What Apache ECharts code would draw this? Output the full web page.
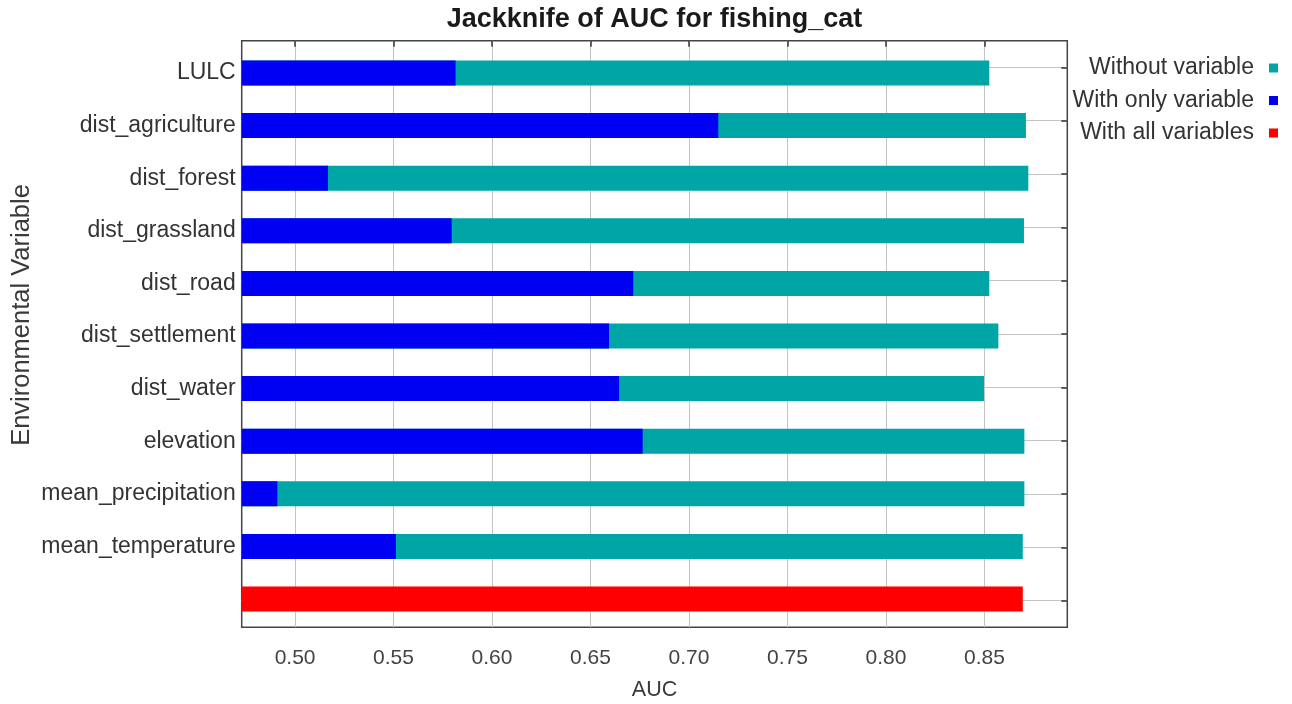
<!DOCTYPE html>
<html>
<head>
<meta charset="utf-8">
<script src="https://cdn.jsdelivr.net/npm/echarts@6/dist/echarts.min.js"></script>
<style>
  html, body { margin: 0; padding: 0; background: #ffffff; }
  #chart { width: 1292px; height: 704px; }
</style>
</head>
<body>
<div id="chart"></div>
<script>
// Jackknife test of variable importance (training AUC)
const variables = ['LULC', 'dist_agriculture', 'dist_forest', 'dist_grassland', 'dist_road',
  'dist_settlement', 'dist_water', 'elevation', 'mean_precipitation', 'mean_temperature'];
const withoutVariable = [0.8525, 0.8711, 0.8723, 0.8701, 0.8525, 0.8571, 0.8498, 0.8703, 0.8703, 0.8695];
const withOnlyVariable = [0.5815, 0.7149, 0.5167, 0.5795, 0.6717, 0.6594, 0.6645, 0.6765, 0.4910, 0.5512];
const withAllVariables = 0.8695;
const aucTicks = [0.50, 0.55, 0.60, 0.65, 0.70, 0.75, 0.80, 0.85];
const aucMin = 0.4729;
const aucMax = 0.8921;

// one row per variable plus a final unlabeled row for the full model
const rows = variables.concat(['']);
const rowIndex = rows.map((_, i) => i);

const FONT = "'Liberation Sans', Arial, sans-serif";
const plot = { left: 241.7, right: 224.7, top: 40.7, bottom: 76.7, outerBoundsMode: 'none', containLabel: false };
const barArea = { left: 241.7, right: 224.7, top: 46.7, bottom: 78.7, outerBoundsMode: 'none', containLabel: false };

const chart = echarts.init(document.getElementById('chart'), null, { renderer: 'canvas' });

chart.setOption({
  animation: false,
  backgroundColor: '#ffffff',
  textStyle: { fontFamily: FONT },
  graphic: [
    {
      type: 'text', x: 654.5, y: 20,
      style: { text: 'Jackknife of AUC for fishing_cat', font: 'bold 27px ' + FONT,
        fill: '#1a1a1a', align: 'center', verticalAlign: 'middle' }
    },
    {
      type: 'text', x: 22, y: 315, rotation: Math.PI / 2,
      style: { text: 'Environmental Variable', font: '25.5px ' + FONT,
        fill: '#3a3a3a', align: 'center', verticalAlign: 'middle' }
    }
  ],
  legend: {
    orient: 'vertical',
    right: 9,
    top: 51,
    align: 'right',
    icon: 'rect',
    itemWidth: 9,
    itemHeight: 9,
    itemGap: 8.5,
    textStyle: { fontFamily: FONT, fontSize: 23, color: '#333333', lineHeight: 24, padding: [0, 10, 0, 0] },
    data: ['Without variable', 'With only variable', 'With all variables']
  },
  grid: [
    Object.assign({ show: true, borderColor: '#444444', borderWidth: 1.5, backgroundColor: '#ffffff' }, plot),
    barArea
  ],
  xAxis: [
    {
      gridIndex: 0, type: 'value', position: 'bottom', min: aucMin, max: aucMax,
      name: 'AUC', nameLocation: 'middle', nameGap: 52,
      nameTextStyle: { fontFamily: FONT, fontSize: 21.5, color: '#3a3a3a' },
      axisLine: { show: false },
      axisTick: { show: true, inside: true, length: 6, customValues: aucTicks,
        lineStyle: { color: '#333333', width: 1.5 } },
      axisLabel: { customValues: aucTicks, margin: 20, fontSize: 21, color: '#444444',
        fontFamily: FONT, formatter: v => v.toFixed(2) },
      splitLine: { show: true, lineStyle: { color: '#c4c4c4', width: 1 } }
    },
    {
      gridIndex: 0, type: 'value', position: 'top', min: aucMin, max: aucMax,
      axisLine: { show: false },
      axisTick: { show: true, inside: true, length: 6, customValues: aucTicks,
        lineStyle: { color: '#333333', width: 1.5 } },
      axisLabel: { show: false },
      splitLine: { show: false }
    },
    {
      gridIndex: 1, type: 'value', min: aucMin, max: aucMax, show: false,
      splitLine: { show: false }
    }
  ],
  yAxis: [
    {
      gridIndex: 0, type: 'value', position: 'right', inverse: true, min: -0.5, max: rows.length - 0.5,
      axisLine: { show: false },
      axisTick: { show: true, inside: true, length: 6, customValues: rowIndex,
        lineStyle: { color: '#333333', width: 1.5 } },
      axisLabel: { show: false },
      splitLine: { show: true, lineStyle: { color: '#c4c4c4', width: 1 } }
    },
    {
      gridIndex: 1, type: 'category', inverse: true, data: rows,
      axisLine: { show: false },
      axisTick: { show: false },
      axisLabel: { fontSize: 23, color: '#333333', fontFamily: FONT, margin: 6 },
      splitLine: { show: false }
    }
  ],
  series: [
    {
      name: 'Without variable', type: 'bar', xAxisIndex: 2, yAxisIndex: 1,
      barWidth: 25, barGap: '-100%',
      itemStyle: { color: '#00a6a6' },
      data: withoutVariable.concat([null])
    },
    {
      name: 'With only variable', type: 'bar', xAxisIndex: 2, yAxisIndex: 1,
      barWidth: 25, barGap: '-100%',
      itemStyle: { color: '#0000f2' },
      data: withOnlyVariable.concat([null])
    },
    {
      name: 'With all variables', type: 'bar', xAxisIndex: 2, yAxisIndex: 1,
      barWidth: 25, barGap: '-100%',
      itemStyle: { color: '#ff0000' },
      data: variables.map(() => null).concat([withAllVariables])
    }
  ]
});
</script>
</body>
</html>
